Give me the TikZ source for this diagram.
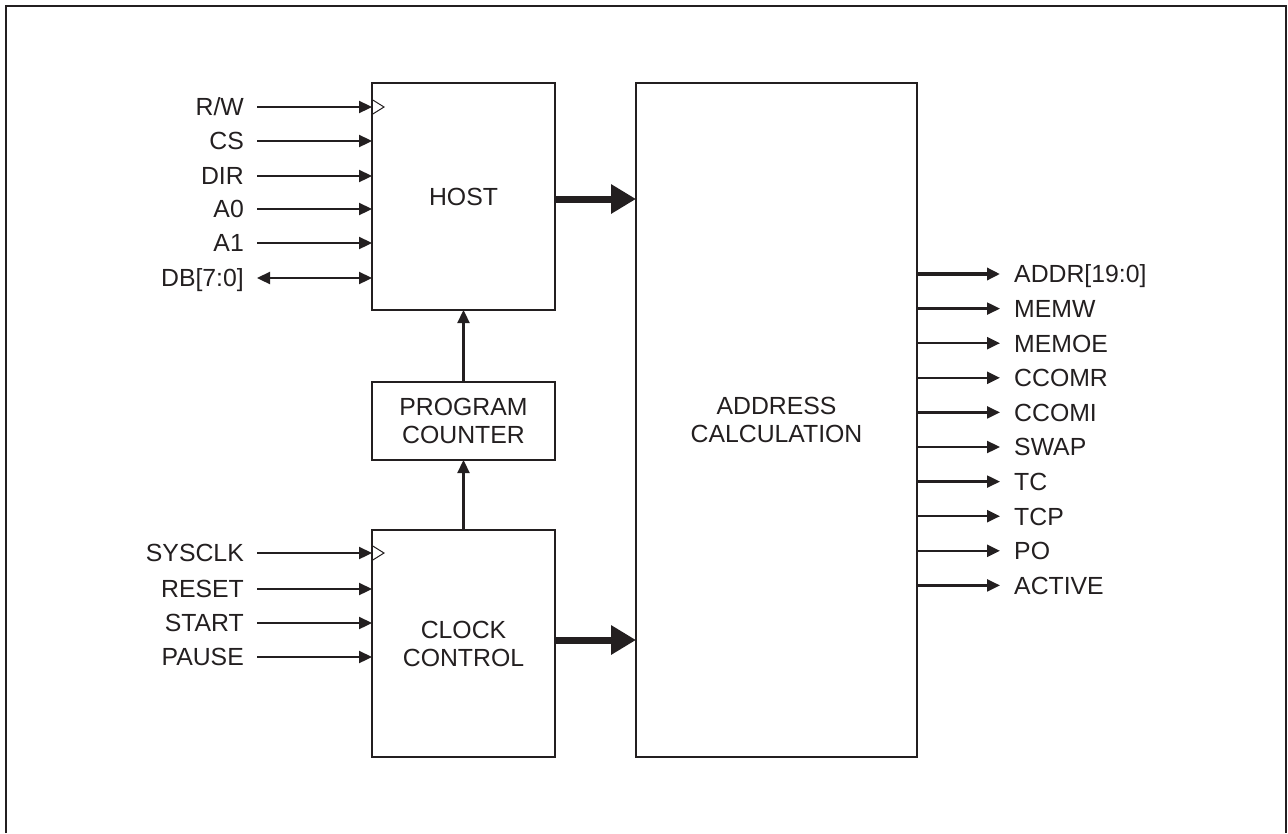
\documentclass[tikz,border=0pt]{standalone}
\usepackage{fontspec}
\setmainfont{Liberation Sans}
\usetikzlibrary{arrows.meta}
\definecolor{ink}{HTML}{231F20}

\begin{document}
\begin{tikzpicture}[x=1pt,y=-1pt,
  >={Triangle[length=13pt,width=12pt]},
  blk/.style={draw=ink, line width=2.2pt, inner sep=0pt, outer sep=0pt, align=center, text=ink, font=\fontsize{24.8}{28}\selectfont},
  sig/.style={draw=ink, line width=2.3pt},
  bus/.style={draw=ink, line width=7pt, -{Triangle[length=25pt,width=28pt]}},
  lbl/.style={inner ysep=0pt, text height=17.8pt, text depth=0pt, text=ink, font=\fontsize{24.8}{28}\selectfont}]
\useasboundingbox (0,0) rectangle (1288,833);
\draw[ink, line width=2.5pt] (6,833) -- (6,6) -- (1286,6) -- (1286,833);

% blocks
\node[blk, minimum width=183pt, minimum height=227pt] (host) at (463.5,196.5) {HOST};
\node[blk, minimum width=183pt, minimum height=78pt] (pc) at (463.5,421) {PROGRAM\\COUNTER};
\node[blk, minimum width=183pt, minimum height=227pt] (clk) at (463.5,643.5) {CLOCK\\CONTROL};
\node[blk, minimum width=281pt, minimum height=674pt] (calc) at (776.5,420) {ADDRESS\\CALCULATION};

% host inputs
\foreach \nm/\txt/\y in {rw/{R/W}/107, cs/CS/141, dir/DIR/176, a0/A0/209, a1/A1/243} {
  \node[lbl, anchor=east, inner xsep=13pt] (\nm) at (257,\y) {\txt};
  \draw[sig,->] (\nm.east) -- (\nm.east -| host.west);
}
\node[lbl, anchor=east, inner xsep=13pt] (db) at (257,278) {DB[7:0]};
\draw[sig,<->] (db.east) -- (db.east -| host.west);
\draw[ink, line width=1pt] (rw.east -| host.west) ++(0,-7.5) -- ++(12,7.5) -- ++(-12,7.5);

% clock inputs
\foreach \nm/\txt/\y in {sysclk/SYSCLK/553, reset/RESET/589, start/START/623, pause/PAUSE/657} {
  \node[lbl, anchor=east, inner xsep=13pt] (\nm) at (257,\y) {\txt};
  \draw[sig,->] (\nm.east) -- (\nm.east -| clk.west);
}
\draw[ink, line width=1pt] (sysclk.east -| clk.west) ++(0,-7.5) -- ++(12,7.5) -- ++(-12,7.5);

% internal
\draw[sig,->] (pc.north) -- (host.south);
\draw[sig,->] (clk.north) -- (pc.south);
\draw[bus] ([yshift=-2.5pt]host.east) -- ([yshift=-2.5pt]host.east -| calc.west);
\draw[bus] ([yshift=3.5pt]clk.east) -- ([yshift=3.5pt]clk.east -| calc.west);

% outputs
\node[lbl, anchor=west, inner xsep=14pt] (addr) at (1000,274) {ADDR[19:0]};
\draw[sig,->, line width=3.5pt] (addr.west -| calc.east) -- (addr.west);
\foreach \nm/\txt/\y in {memw/MEMW/308.6, memoe/MEMOE/343.2, ccomr/CCOMR/377.8, ccomi/CCOMI/412.4, swap/SWAP/447, tc/TC/481.6, tcp/TCP/516.2, po/PO/550.8, active/ACTIVE/585.4} {
  \node[lbl, anchor=west, inner xsep=14pt] (\nm) at (1000,\y) {\txt};
  \draw[sig,->] (\nm.west -| calc.east) -- (\nm.west);
}
\end{tikzpicture}
\end{document}
